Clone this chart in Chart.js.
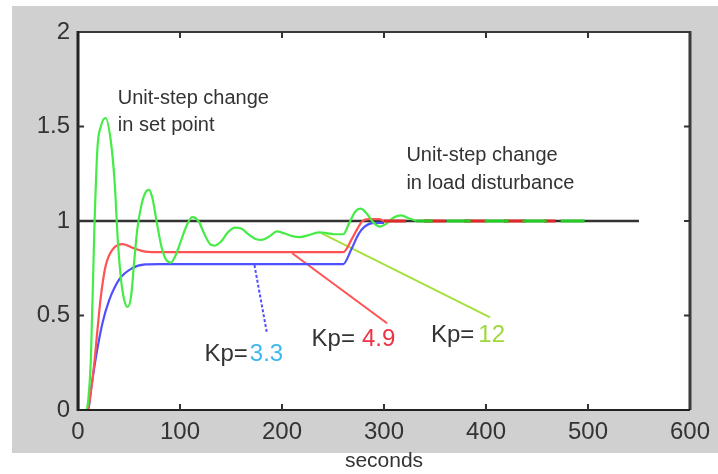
<!DOCTYPE html>
<html>
<head>
<meta charset="utf-8">
<script src="https://cdn.jsdelivr.net/npm/chart.js@4.4.1/dist/chart.umd.min.js"></script>
<style>
    html, body { margin: 0; padding: 0; background: #ffffff; }
    #wrap { width: 718px; height: 474px; }
</style>
</head>
<body>
<div id="wrap"><canvas id="myChart" width="718" height="474"></canvas></div>
<script>
// tick values
const xTicks = [0, 100, 200, 300, 400, 500, 600];
const yTicks = [0, 0.5, 1, 1.5, 2];

// set point (unit step at t = 0)
const setT = [0, 0, 550];
const setV = [0, 1, 1];

// Kp = 12 (green)
const kp12T = [0, 8, 10, 12.7, 16, 19, 22.4, 27, 32, 36, 39, 42, 45, 48.5, 52, 55, 58, 62, 66, 69.6, 73, 77, 82, 87, 91, 95, 100, 106, 112, 118, 124, 130, 134, 140, 147, 154, 160, 167, 174, 180, 188, 195, 202, 210, 218, 226, 236, 245, 252, 260, 266, 272, 277, 283, 290, 296, 302, 310, 317, 324, 332];
const kp12V = [0, 0, 0.05, 0.28, 0.95, 1.38, 1.5, 1.545, 1.43, 1.2, 0.9, 0.7, 0.59, 0.545, 0.6, 0.78, 0.95, 1.08, 1.15, 1.165, 1.12, 1.0, 0.86, 0.79, 0.78, 0.81, 0.88, 0.97, 1.02, 1.0, 0.93, 0.875, 0.87, 0.89, 0.94, 0.965, 0.96, 0.93, 0.905, 0.9, 0.92, 0.945, 0.935, 0.92, 0.915, 0.925, 0.94, 0.935, 0.93, 0.93, 0.99, 1.05, 1.065, 1.04, 0.99, 0.97, 0.985, 1.02, 1.03, 1.015, 1.0];

// Kp = 4.9 (red)
const kp49T = [0, 9, 11, 16, 19, 22.4, 27, 34, 43.6, 55, 66, 81, 260, 268, 274, 279, 285, 295, 300];
const kp49V = [0, 0, 0.035, 0.25, 0.42, 0.6, 0.76, 0.85, 0.878, 0.855, 0.838, 0.835, 0.835, 0.9, 0.96, 1.0, 1.01, 1.01, 1.0];

// Kp = 3.3 (blue)
const kp33T = [0, 10, 12.7, 17.6, 24, 30.5, 40.3, 53, 66, 80, 260, 268, 275, 281, 290, 300];
const kp33V = [0, 0, 0.106, 0.28, 0.46, 0.58, 0.69, 0.75, 0.77, 0.772, 0.772, 0.85, 0.93, 0.97, 0.99, 0.99];

// dashed tails on the set point after the load change
const tailRedT = [300, 468];
const tailRedV = [1, 1];
const tailGreenT = [332, 500];
const tailGreenV = [1, 1];

// pointer lines from the Kp labels to the curves
const ptrBlueT = [173, 185];
const ptrBlueV = [0.767, 0.414];
const ptrRedT = [210, 303];
const ptrRedV = [0.829, 0.459];
const ptrLimeT = [239, 404];
const ptrLimeV = [0.935, 0.49];

// label values
const kpValues = ['3.3', '4.9', '12'];

function pts(ts, vs) {
    return ts.map((t, i) => ({ x: t, y: vs[i] }));
}

function line(ts, vs, color, width, order, extra) {
    return Object.assign({
        data: pts(ts, vs),
        borderColor: color,
        borderWidth: width,
        pointRadius: 0,
        fill: false,
        order: order,
        cubicInterpolationMode: 'monotone'
    }, extra || {});
}

const GREEN = '#45ec45';
const RED = '#ff5252';
const BLUE = '#4f4fff';
const LIME = '#a6e03c';
const INK = '#333333';
const FONT = '"Liberation Sans", Arial, sans-serif';

// where the text goes (data coords) and its look
const kpLabelPos = [[124, 0.296, 2], [229, 0.376, 7], [346, 0.397, 4]];
const kpLabelColors = ['#3cb8ee', '#ee3344', '#9ed83a'];
const noteLines = [
    { t: 39, v: 1.65, text: 'Unit-step change' },
    { t: 39, v: 1.503, text: 'in set point' },
    { t: 322, v: 1.349, text: 'Unit-step change' },
    { t: 322, v: 1.2, text: 'in load disturbance' }
];

const framePlugin = {
    id: 'frame',
    beforeDraw(chart) {
        const ctx = chart.ctx;
        const a = chart.chartArea;
        ctx.save();
        ctx.fillStyle = '#ffffff';
        ctx.fillRect(0, 0, chart.width, chart.height);
        ctx.fillStyle = '#d0d0d0';
        ctx.fillRect(12, 6, chart.width - 12, 447);
        ctx.fillStyle = '#ffffff';
        ctx.fillRect(a.left, a.top, a.right - a.left, a.bottom - a.top);
        ctx.restore();
    },
    afterDatasetsDraw(chart) {
        const ctx = chart.ctx;
        const a = chart.chartArea;
        const xs = chart.scales.x;
        const ys = chart.scales.y;
        ctx.save();
        // box
        ctx.strokeStyle = '#3a3a3a';
        ctx.lineWidth = 2;
        ctx.beginPath();
        ctx.moveTo(a.left, a.top);
        ctx.lineTo(a.right, a.top);
        ctx.stroke();
        ctx.lineWidth = 3;
        ctx.beginPath();
        ctx.moveTo(a.right, a.top - 1);
        ctx.lineTo(a.right, a.bottom);
        ctx.stroke();
        ctx.strokeStyle = '#222222';
        ctx.lineWidth = 2;
        ctx.beginPath();
        ctx.moveTo(a.left, a.bottom);
        ctx.lineTo(a.right, a.bottom);
        ctx.stroke();
        ctx.lineWidth = 3;
        ctx.beginPath();
        ctx.moveTo(a.left, a.top - 1);
        ctx.lineTo(a.left, a.bottom + 1);
        ctx.stroke();
        // inward ticks
        ctx.strokeStyle = INK;
        ctx.lineWidth = 2;
        xTicks.slice(1, -1).forEach(v => {
            const px = xs.getPixelForValue(v);
            ctx.beginPath();
            ctx.moveTo(px, a.bottom); ctx.lineTo(px, a.bottom - 6);
            ctx.moveTo(px, a.top); ctx.lineTo(px, a.top + 6);
            ctx.stroke();
        });
        yTicks.slice(1, -1).forEach(v => {
            const py = ys.getPixelForValue(v);
            ctx.beginPath();
            ctx.moveTo(a.left, py); ctx.lineTo(a.left + 6, py);
            ctx.moveTo(a.right, py); ctx.lineTo(a.right - 6, py);
            ctx.stroke();
        });
        // notes
        ctx.fillStyle = INK;
        ctx.textBaseline = 'middle';
        ctx.textAlign = 'left';
        ctx.font = '20px ' + FONT;
        noteLines.forEach(n => {
            ctx.fillText(n.text, xs.getPixelForValue(n.t), ys.getPixelForValue(n.v));
        });
        ctx.font = '24px ' + FONT;
        kpLabelPos.forEach((p, i) => {
            const px = xs.getPixelForValue(p[0]);
            const py = ys.getPixelForValue(p[1]);
            ctx.fillStyle = INK;
            ctx.fillText('Kp=', px, py);
            const w = ctx.measureText('Kp=').width;
            ctx.fillStyle = kpLabelColors[i];
            ctx.fillText(kpValues[i], px + w + p[2], py);
        });
        ctx.restore();
    }
};

new Chart('myChart', {
    type: 'line',
    data: {
        datasets: [
            line(setT, setV, INK, 2.5, 10, { cubicInterpolationMode: 'default', tension: 0 }),
            line(ptrLimeT, ptrLimeV, LIME, 2, 9),
            line(ptrRedT, ptrRedV, RED, 2, 8),
            line(ptrBlueT, ptrBlueV, BLUE, 2, 7, { borderDash: [3, 2] }),
            line(kp33T, kp33V, BLUE, 2.2, 6),
            line(kp49T, kp49V, RED, 2.2, 5),
            line(kp12T, kp12V, GREEN, 2.2, 4),
            line(tailRedT, tailRedV, '#e02828', 3, 3, { borderDash: [22, 18] }),
            line(tailGreenT, tailGreenV, '#22cc22', 3, 2, { borderDash: [24, 14], borderDashOffset: 8 })
        ]
    },
    options: {
        responsive: false,
        animation: false,
        layout: { padding: { left: 0, top: 32, right: 25, bottom: 0 } },
        plugins: { legend: { display: false }, tooltip: { enabled: false } },
        scales: {
            x: {
                type: 'linear',
                min: 0,
                max: 600,
                afterFit(scale) { scale.height = 64; },
                afterBuildTicks(scale) { scale.ticks = xTicks.map(v => ({ value: v })); },
                grid: { display: false, drawTicks: false },
                border: { display: false },
                ticks: {
                    padding: 8,
                    maxRotation: 0,
                    minRotation: 0,
                    color: INK,
                    callback: v => String(v),
                    font: { family: FONT, size: 24 }
                },
                title: {
                    display: true,
                    text: 'seconds',
                    color: INK,
                    padding: { top: 0, bottom: 0 },
                    font: { family: FONT, size: 21 }
                }
            },
            y: {
                type: 'linear',
                min: 0,
                max: 2,
                afterFit(scale) { scale.width = 78; },
                afterBuildTicks(scale) { scale.ticks = yTicks.map(v => ({ value: v })); },
                grid: { display: false, drawTicks: false },
                border: { display: false },
                ticks: {
                    padding: 8,
                    color: INK,
                    callback: v => String(v),
                    font: { family: FONT, size: 24 }
                }
            }
        }
    },
    plugins: [framePlugin]
});
</script>
</body>
</html>
